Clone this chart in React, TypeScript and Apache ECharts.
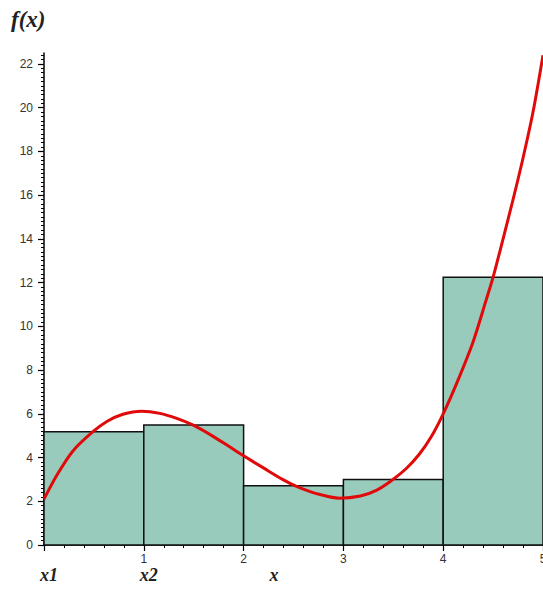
import React, { useEffect, useRef } from "react";
import * as echarts from "echarts";

const barStarts = [0, 1, 2, 3, 4];
const barWidths = [1, 1, 1, 1, 1];
const barHeights = [5.18, 5.49, 2.71, 3.0, 12.25];

const curveX = [0, 0.13, 0.29, 0.49, 0.63, 0.79, 0.98, 1.16, 1.33, 1.49, 1.69, 1.89, 2.0, 2.19, 2.39, 2.53, 2.73, 2.96, 3.17, 3.33, 3.48, 3.63, 3.76, 3.88, 4.0, 4.14, 4.3, 4.43, 4.5, 4.6, 4.7, 4.8, 4.9, 5.0];
const curveY = [2.1, 3.2, 4.3, 5.18, 5.65, 5.98, 6.12, 6.02, 5.79, 5.49, 4.98, 4.4, 4.08, 3.55, 3.0, 2.68, 2.35, 2.14, 2.24, 2.5, 2.94, 3.5, 4.15, 4.95, 6.0, 7.45, 9.3, 11.2, 12.25, 14.0, 15.8, 17.7, 19.8, 22.4];

const yTickValues = [0, 2, 4, 6, 8, 10, 12, 14, 16, 18, 20, 22];
const xTickValues = [0, 1, 2, 3, 4, 5];
const xLabelValues = [1, 2, 3, 4, 5];
const bottomLabels = [
  { text: "x1", at: 0 },
  { text: "x2", at: 1 },
  { text: "x", at: 2.3 },
];

export default function App() {
  const ref = useRef<HTMLDivElement>(null);
  useEffect(() => {
    if (!ref.current) return;
    const chart = echarts.init(ref.current, undefined, { renderer: "svg" });
    const left = 44;
    const plotW = 543 - left;
    const labelFont = "'Liberation Sans Narrow', 'Liberation Sans', Arial, sans-serif";
    chart.setOption({
      animation: false,
      backgroundColor: "#ffffff",
      grid: { left: left, right: 0, top: 53, bottom: 46, containLabel: false, outerBoundsMode: "none" },
      xAxis: {
        type: "value",
        min: 0,
        max: 5,
        interval: 1,
        axisLine: { show: true, onZero: false, lineStyle: { color: "#000", width: 1.5 } },
        axisTick: { show: true, inside: false, length: 6, lineStyle: { color: "#000", width: 1.2 }, customValues: xTickValues },
        minorTick: { show: true, splitNumber: 5, length: 3, lineStyle: { color: "#000", width: 1 } },
        axisLabel: { show: true, margin: 8, color: "#333", fontSize: 12, fontFamily: labelFont, customValues: xLabelValues, hideOverlap: false },
        splitLine: { show: false },
      },
      yAxis: {
        type: "value",
        min: 0,
        max: 22.5,
        interval: 2,
        axisLine: { show: true, onZero: false, lineStyle: { color: "#000", width: 1.5 } },
        axisTick: { show: true, inside: false, length: 6, lineStyle: { color: "#000", width: 1.2 }, customValues: yTickValues },
        minorTick: { show: true, splitNumber: 10, length: 3, lineStyle: { color: "#000", width: 1 } },
        axisLabel: { show: true, margin: 11, color: "#333", fontSize: 12, fontFamily: labelFont, customValues: yTickValues },
        splitLine: { show: false },
      },
      series: [
        {
          type: "custom",
          z: 2,
          renderItem: (params: any, api: any) => {
            const x0 = api.value(0);
            const w = api.value(1);
            const h = api.value(2);
            const p0 = api.coord([x0, 0]);
            const p1 = api.coord([x0 + w, h]);
            return {
              type: "rect",
              shape: { x: p0[0], y: p1[1], width: p1[0] - p0[0], height: p0[1] - p1[1] },
              style: { fill: "#99cbbd", stroke: "#111", lineWidth: 1.5 },
            };
          },
          data: barStarts.map((s, i) => [s, barWidths[i], barHeights[i]]),
        },
        {
          type: "line",
          z: 3,
          smooth: 0.3,
          showSymbol: false,
          symbol: "none",
          clip: true,
          lineStyle: { color: "#e00a0a", width: 3 },
          data: curveX.map((x, i) => [x, curveY[i]]),
        },
      ],
      graphic: [
        {
          type: "text",
          left: 11,
          top: 8,
          style: {
            text: "f(x)",
            font: "italic bold 23px 'Liberation Serif', 'Times New Roman', serif",
            fill: "#222",
          },
        },
        ...bottomLabels.map((b) => ({
          type: "text",
          x: left + (b.at * plotW) / 5 - 4,
          y: 566,
          style: {
            text: b.text,
            font: "italic bold 18px 'Liberation Serif', 'Times New Roman', serif",
            fill: "#222",
          },
        })),
      ],
    });
    return () => chart.dispose();
  }, []);
  return (
    <div
      ref={ref}
      style={{ position: "fixed", left: 0, top: 0, width: 543, height: 591, background: "#fff" }}
    />
  );
}
